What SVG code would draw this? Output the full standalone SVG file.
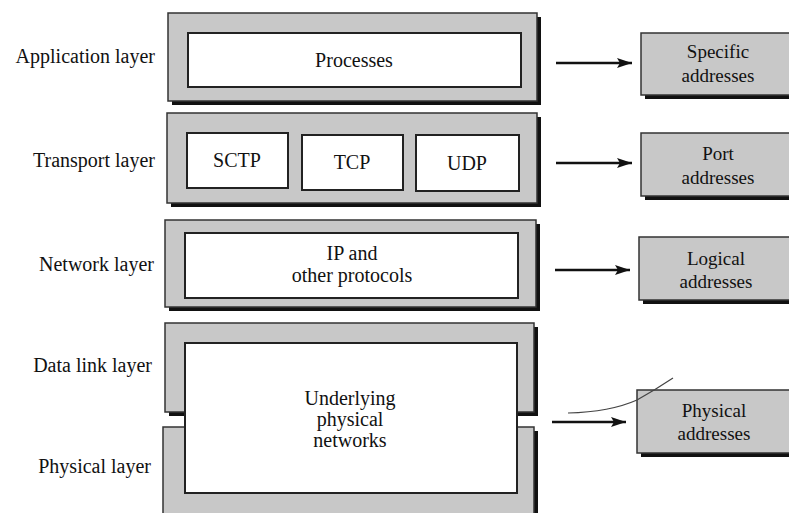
<svg xmlns="http://www.w3.org/2000/svg" width="789" height="513" viewBox="0 0 789 513" font-family="'Liberation Serif', 'DejaVu Serif', 'Times New Roman', serif">
<defs>
<marker id="ah" markerWidth="16" markerHeight="12" refX="15" refY="6" orient="auto" markerUnits="userSpaceOnUse">
<path d="M0,1 L15,6 L0,11 L3,6 Z" fill="#111"/>
</marker>
</defs>
<style>
text{font-family:'Liberation Serif','DejaVu Serif','Times New Roman',serif;fill:#111;}
.lbl{font-size:20px;text-anchor:end;}
.in{font-size:20px;text-anchor:middle;}
.ad{font-size:19px;text-anchor:middle;}
.sh{fill:#111;}
.gray{fill:#c8c8c8;stroke:#333;stroke-width:1.5;}
.white{fill:#fff;stroke:#222;stroke-width:2;}
.conn{stroke:#111;stroke-width:2.5;fill:none;marker-end:url(#ah);}
</style>
<rect width="789" height="513" fill="#fff"/>

<g id="labels">
<text class="lbl" x="155" y="63">Application layer</text>
<text class="lbl" x="155" y="167">Transport layer</text>
<text class="lbl" x="154" y="271">Network layer</text>
<text class="lbl" x="152" y="372">Data link layer</text>
<text class="lbl" x="151" y="473">Physical layer</text>
</g>

<g id="application-layer">
<rect class="sh" x="172" y="17" width="369" height="88"/>
<rect class="gray" x="168" y="13" width="369" height="88"/>
</g>
<g id="transport-layer">
<rect class="sh" x="171" y="117" width="370" height="90"/>
<rect class="gray" x="167" y="113" width="370" height="90"/>
</g>
<g id="network-layer">
<rect class="sh" x="169" y="224" width="371" height="87"/>
<rect class="gray" x="165" y="220" width="371" height="87"/>
</g>
<g id="data-link-layer">
<rect class="sh" x="169" y="327" width="369" height="89"/>
<rect class="gray" x="165" y="323" width="369" height="89"/>
</g>
<g id="physical-layer">
<rect class="sh" x="167" y="431" width="371" height="100"/>
<rect class="gray" x="163" y="427" width="371" height="100"/>
</g>

<g id="processes">
<rect class="white" x="188" y="33" width="333" height="54"/>
<text class="in" x="354" y="67">Processes</text>
</g>
<g id="sctp">
<rect class="white" x="187" y="133" width="101" height="55"/>
<text class="in" x="237" y="167">SCTP</text>
</g>
<g id="tcp">
<rect class="white" x="302" y="135" width="101" height="55"/>
<text class="in" x="352" y="169">TCP</text>
</g>
<g id="udp">
<rect class="white" x="416" y="135" width="103" height="56"/>
<text class="in" x="467" y="170">UDP</text>
</g>
<g id="ip">
<rect class="white" x="185" y="233" width="333" height="65"/>
<text class="in" x="352" y="260">IP and</text>
<text class="in" x="352" y="282">other protocols</text>
</g>
<g id="underlying">
<rect class="white" x="185" y="343" width="332" height="150"/>
<text class="in" x="350" y="405">Underlying</text>
<text class="in" x="350" y="426">physical</text>
<text class="in" x="350" y="447">networks</text>
</g>

<g id="specific-addresses">
<rect class="sh" x="645" y="37" width="160" height="62"/>
<rect class="gray" x="641" y="33" width="160" height="62"/>
<text class="ad" x="718" y="58">Specific</text>
<text class="ad" x="718" y="82">addresses</text>
</g>
<g id="port-addresses">
<rect class="sh" x="645" y="137" width="160" height="63"/>
<rect class="gray" x="641" y="133" width="160" height="63"/>
<text class="ad" x="718" y="160">Port</text>
<text class="ad" x="718" y="184">addresses</text>
</g>
<g id="logical-addresses">
<rect class="sh" x="643" y="241" width="160" height="63"/>
<rect class="gray" x="639" y="237" width="160" height="63"/>
<text class="ad" x="716" y="265">Logical</text>
<text class="ad" x="716" y="288">addresses</text>
</g>
<g id="physical-addresses">
<rect class="sh" x="641" y="394" width="160" height="63"/>
<rect class="gray" x="637" y="390" width="160" height="63"/>
<text class="ad" x="714" y="417">Physical</text>
<text class="ad" x="714" y="440">addresses</text>
</g>

<g id="connectors">
<line class="conn" x1="556" y1="63" x2="632" y2="63"/>
<line class="conn" x1="556" y1="163" x2="632" y2="163"/>
<line class="conn" x1="555" y1="270" x2="630" y2="270"/>
<line class="conn" x1="552" y1="422" x2="626" y2="422"/>
<path d="M568,413 Q610,412 637,400 Q655,390 673,378" fill="none" stroke="#444" stroke-width="1.2"/>
</g>
</svg>
